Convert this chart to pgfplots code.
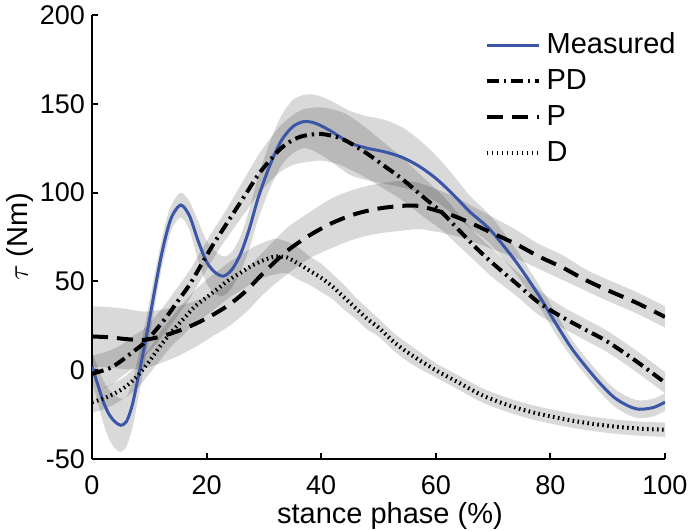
\documentclass[border=0pt]{standalone}
\usepackage{pgfplots}
\pgfplotsset{compat=1.18}
\usepackage{pgfplotstable}
\usepgfplotslibrary{fillbetween}
\usepackage{fontspec}
\setmainfont{Liberation Sans}
\definecolor{mblue}{RGB}{59,86,167}

\pgfplotstableread{
x y h
0 2 8
1 -8 10
2 -18 12
3 -25 14
4 -29 15
5 -31 15
6 -29 14
7 -20 13
8 -5 12
9 11 11
10 28 10
11 46 9
12 63 8
13 77 8
14 87 7
15.5 93 7
17 87 8
18.5 73 11
20 61 12
21.5 55 12
23 53 11
24.5 57 10
26 66 10
27.5 80 11
29 97 12
31 115 13
33 129 14
35 137 15
37 140 15
39 139 16
41.5 135 17
45 128 18
48 125 18
51 123 18
54 120 17
57 115 15
60 108 13
63 99 11
66 89 9
69.5 79 8
74 61 7
78 42 6
81 26 6
84 11 5
88 -5 5
91 -15 5
93.5 -20 5
95.5 -22 5
98 -21 5
100 -18 5
}\measured

\pgfplotstableread{
x y h
0 -2 10
3 1 10
5 5 9
7 10 9
9 15 8
11 22 8
13 30 8
15 39 8
17 48 8
19 59 8
21 70 8
23 80 8
25 90 9
27 100 10
29 110 11
31 118 12
33 125 13
35 129.5 14
37 132 15
40 133 15
43 131 15
45 128 15
48 122 14
51 115 13
54 108 12
58 97 11
61 89 10
64 79 9
67 69 8
70 60 8
74 49 7
78 38 7
82 30 6
86 23 6
90 16 6
95 5 6
100 -7 6
}\pdtab

\pgfplotstableread{
x y h
0 19 17
3 18.5 17
6 17.5 17
9 17 16
12 19 15
15 22 14
18 26 13
21 31 12
24 37 12
27 45 12
30 55 12
34 67 13
38 76 13
42 83 14
46 88 14
50 91 14
54 92.5 14
57 92.5 13
60 90 12
63 87 11
66 83 10
70 77 9
74 71 8
78 64 7
82 58 7
86 51 6
90 45 6
95 38 6
100 30 6
}\ptab

\pgfplotstableread{
x y h
0 -18 6
2 -16 6
4 -13 6
6 -9 6
8 -3 7
10 5 7
12 14 8
14 22 8
16 29 9
18 36 9
20 41 10
22 46 10
24 51 10
26 55 10
28 59 10
30 62 10
32 64 10
34 63.5 9
36 60 9
38 56 8
40 52 8
42 47 7
44 41 7
46 35 6
48 29 6
50 24 5
53 15 5
56 8 5
60 0 4
64 -7 4
68 -14 4
72 -19 4
76 -23 4
80 -26 4
84 -28.5 4
88 -30.5 4
92 -32 4
96 -33 4
100 -33.5 4
}\dtab

\begin{document}
\begin{tikzpicture}
\begin{axis}[
  scale only axis, width=286.5pt, height=222pt,
  xmin=0, xmax=100, ymin=-50, ymax=200,
  axis x line*=bottom, axis y line*=left,
  axis line style={-, line width=1pt, black},
  tick align=inside, major tick length=3pt,
  tick style={line width=1pt, black},
  xtick={0,20,40,60,80,100}, xticklabels={0,20,40,60,80,100},
  ytick={-50,0,50,100,150,200}, yticklabels={-50,0,50,100,150,200},
  tick label style={font=\fontsize{13.5}{16}\selectfont},
  xticklabel style={yshift=-5pt},
  label style={font=\fontsize{14.5}{17}\selectfont},
  xlabel={stance phase (\%)},
  ylabel={$\tau$ (Nm)},
  xlabel style={at={(axis description cs:0.52,-0.129)}, anchor=center},
  ylabel style={at={(axis description cs:-0.125,0.5)}, anchor=center},
  legend style={draw=none, fill=none, at={(axis description cs:0.674,0.978)}, anchor=north west,
    font=\fontsize{14.5}{17}\selectfont, row sep=2pt,
    nodes={inner sep=1pt, text height=11pt, text depth=3pt}},
  legend cell align=left,
  legend image code/.code={\draw[#1] (0pt,0pt) -- (26pt,0pt); \path (28pt,0pt);},
]
% bands
\addplot[name path=mU, draw=none, smooth, forget plot] table[x=x, y expr=\thisrow{y}+\thisrow{h}]{\measured};
\addplot[name path=mL, draw=none, smooth, forget plot] table[x=x, y expr=\thisrow{y}-\thisrow{h}]{\measured};
\addplot[fill=black, fill opacity=0.15, draw=none, forget plot] fill between[of=mU and mL];
\addplot[name path=pdU, draw=none, smooth, forget plot] table[x=x, y expr=\thisrow{y}+\thisrow{h}]{\pdtab};
\addplot[name path=pdL, draw=none, smooth, forget plot] table[x=x, y expr=\thisrow{y}-\thisrow{h}]{\pdtab};
\addplot[fill=black, fill opacity=0.15, draw=none, forget plot] fill between[of=pdU and pdL];
\addplot[name path=pU, draw=none, smooth, forget plot] table[x=x, y expr=\thisrow{y}+\thisrow{h}]{\ptab};
\addplot[name path=pL, draw=none, smooth, forget plot] table[x=x, y expr=\thisrow{y}-\thisrow{h}]{\ptab};
\addplot[fill=black, fill opacity=0.15, draw=none, forget plot] fill between[of=pU and pL];
\addplot[name path=dU, draw=none, smooth, forget plot] table[x=x, y expr=\thisrow{y}+\thisrow{h}]{\dtab};
\addplot[name path=dL, draw=none, smooth, forget plot] table[x=x, y expr=\thisrow{y}-\thisrow{h}]{\dtab};
\addplot[fill=black, fill opacity=0.15, draw=none, forget plot] fill between[of=dU and dL];
% lines
\addplot[mblue, line width=1.5pt, smooth] table[x=x, y=y]{\measured};
\addlegendentry{Measured}
\addplot[black, line width=2pt, smooth, dash pattern=on 6pt off 2.5pt on 1.2pt off 2.5pt] table[x=x, y=y]{\pdtab};
\addlegendentry{PD}
\addplot[black, line width=2pt, smooth, dash pattern=on 8pt off 4.5pt] table[x=x, y=y]{\ptab};
\addlegendentry{P}
\addplot[black, line width=2pt, smooth, dash pattern=on 0.8pt off 1.7pt] table[x=x, y=y]{\dtab};
\addlegendentry{D}
\end{axis}
\pgfresetboundingbox
\path ([xshift=-46pt,yshift=-36pt]current axis.south west) rectangle ([xshift=13.5pt,yshift=7.5pt]current axis.north east);
\end{tikzpicture}
\end{document}
